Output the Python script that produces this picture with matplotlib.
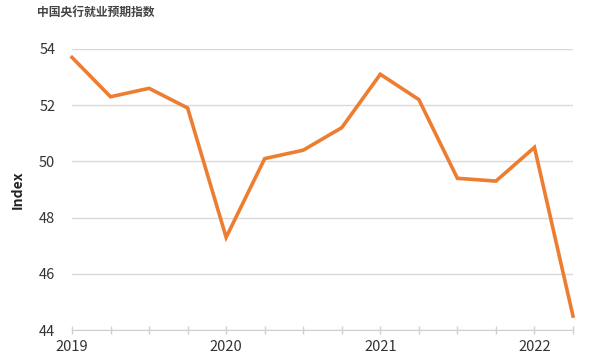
import matplotlib
matplotlib.use("Agg")
import matplotlib.pyplot as plt

plt.rcParams['font.family'] = ['Noto Sans CJK SC', 'DejaVu Sans']

quarters = ["2019Q1", "2019Q2", "2019Q3", "2019Q4",
            "2020Q1", "2020Q2", "2020Q3", "2020Q4",
            "2021Q1", "2021Q2", "2021Q3", "2021Q4",
            "2022Q1", "2022Q2"]
values = [53.7, 52.3, 52.6, 51.9, 47.3, 50.1, 50.4, 51.2,
          53.1, 52.2, 49.4, 49.3, 50.5, 44.5]
year_labels = ["2019", "2020", "2021", "2022"]
yticks = [44, 46, 48, 50, 52, 54]

fig = plt.figure(figsize=(6, 3.6), dpi=100)
ax = fig.add_axes([0.12, 0.083, 0.835, 0.781])

x = list(range(len(quarters)))
ax.plot(x, values, color="#ED7D31", linewidth=2.6, solid_joinstyle="miter", clip_on=False, zorder=3)

ax.set_xlim(0, len(quarters) - 1)
ax.set_ylim(44, 54)
ax.set_yticks(yticks)
ax.set_yticklabels([str(v) for v in yticks], fontsize=10.5, color="#333333")

ax.set_xticks(x)
ax.set_xticklabels([q[:4] if q.endswith("Q1") else "" for q in quarters],
                   fontsize=10.5, color="#333333")
ax.tick_params(axis="x", direction="inout", length=6, color="#d0d0d0", width=1, pad=4)
ax.tick_params(axis="y", length=0, pad=12)

ax.grid(axis="y", color="#d9d9d9", linewidth=1)
for s in ["top", "right", "left"]:
    ax.spines[s].set_visible(False)
ax.spines["bottom"].set_color("#d0d0d0")
ax.set_axisbelow(True)

ax.set_ylabel("Index", fontsize=10, fontweight="bold", color="#222222")
ax.yaxis.set_label_coords(-0.094, 0.5)

fig.text(0.062, 0.985, "中国央行就业预期指数", fontsize=8.5, fontweight="bold",
         color="#444444", ha="left", va="top")

fig.savefig("out.png", dpi=100, facecolor="white")
